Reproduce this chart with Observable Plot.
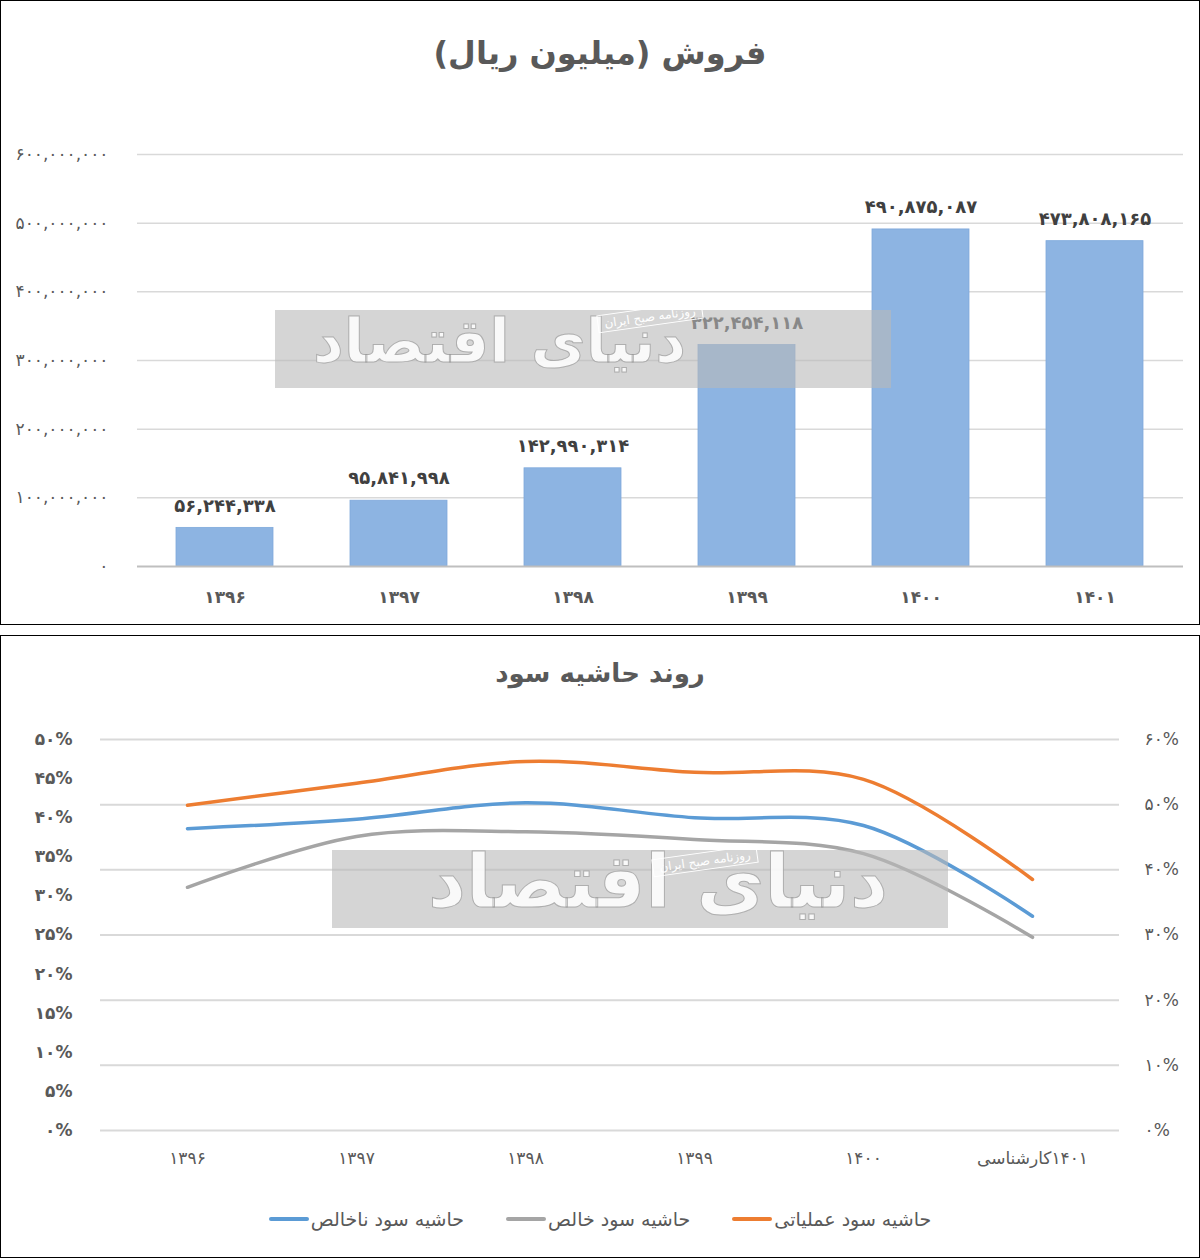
<!DOCTYPE html>
<html>
<head>
<meta charset="utf-8">
<script src="https://cdn.jsdelivr.net/npm/d3@7"></script>
<script src="https://cdn.jsdelivr.net/npm/@observablehq/plot@0.6"></script>
<style>
  body { margin:0; background:#fff; font-family:"DejaVu Sans", sans-serif; }
  .panel { position:absolute; left:0; width:1198px; border:1px solid #000; background:#fff; overflow:hidden; }
  .title { position:absolute; left:0; width:100%; text-align:center; font-weight:bold; color:#595959; direction:rtl; }
  .wm { position:absolute; background:rgba(185,185,185,0.6); }
  .wm .big { position:absolute; font-weight:bold; color:rgba(255,255,255,0.85); -webkit-text-stroke:1px rgba(150,150,150,0.7); direction:rtl; white-space:nowrap; }
  .wm .small { position:absolute; font-size:12px; color:#fff; border:1px solid #fff; padding:1px 6px; transform:rotate(-8deg); direction:rtl; white-space:nowrap; }
  .legend { position:absolute; left:0; width:100%; display:flex; justify-content:center; direction:rtl; gap:42px; font-size:19px; color:#595959; }
  .legend .item { display:flex; align-items:center; direction:rtl; }
  .legend .sw { display:inline-block; width:40px; height:4px; border-radius:2px; margin-right:2px; }
</style>
</head>
<body>
<div class="panel" style="top:0; height:623px;">
  <div class="title" style="top:30px; font-size:32px; line-height:44px;">فروش (میلیون ریال)</div>
  <div id="c1" style="position:absolute; top:99px; left:0;"></div>
  <div class="wm" style="left:274px; top:309px; width:616px; height:78px;">
    <div class="big" style="right:205px; top:-4px; font-size:60px;">دنیای اقتصاد</div>
    <div class="small" style="left:322px; top:-2px;">روزنامه صبح ایران</div>
  </div>
</div>
<div class="panel" style="top:635px; height:621px;">
  <div class="title" style="top:20px; font-size:26px; line-height:34px;">روند حاشیه سود</div>
  <div id="c2" style="position:absolute; top:70px; left:0;"></div>
  <div class="wm" style="left:331px; top:214px; width:616px; height:78px;">
    <div class="big" style="right:60px; top:-12px; font-size:74px;">دنیای اقتصاد</div>
    <div class="small" style="left:320px; top:2px;">روزنامه صبح ایران</div>
  </div>
  <div class="legend" id="legend" style="top:572px;"></div>
</div>
<script>
// ---------- data ----------
const years = ["۱۳۹۶", "۱۳۹۷", "۱۳۹۸", "۱۳۹۹", "۱۴۰۰", "۱۴۰۱"];
const sales = [56244338, 95841998, 142990314, 322454118, 490875087, 473808165];
const salesTicks = [0, 100000000, 200000000, 300000000, 400000000, 500000000, 600000000];

const marginCats = ["۱۳۹۶", "۱۳۹۷", "۱۳۹۸", "۱۳۹۹", "۱۴۰۰", "\u200F۱۴۰۱کارشناسی"];
const operatingMargin = [41.6, 44.4, 47.2, 45.8, 44.9, 32.1];
const grossMargin = [38.6, 39.8, 41.9, 40.0, 39.0, 27.4];
const netMargin = [31.1, 37.6, 38.2, 37.2, 35.4, 24.7];
const leftTicks = [0, 5, 10, 15, 20, 25, 30, 35, 40, 45, 50];
const rightTicks = [0, 10, 20, 30, 40, 50, 60];
const seriesNames = ["حاشیه سود عملیاتی", "حاشیه سود خالص", "حاشیه سود ناخالص"];
const seriesColors = ["#ED7D31", "#A5A5A5", "#5B9BD5"];

// ---------- helpers ----------
const faDigits = "۰۱۲۳۴۵۶۷۸۹";
const fa = s => String(s).replace(/\d/g, d => faDigits[+d]);
const faNum = v => fa(d3.format(",")(v));
const faPct = v => fa(v) + "%";

// ---------- chart 1: sales ----------
const salesRows = years.map((y, i) => ({year: y, value: sales[i]}));
const c1 = Plot.plot({
  width: 1198,
  height: 523,
  marginTop: 54,
  marginBottom: 57,
  marginLeft: 136,
  marginRight: 16,
  style: {fontFamily: "DejaVu Sans", fontSize: "17px", color: "#595959", background: "transparent"},
  x: {domain: years, paddingInner: 0.44, paddingOuter: 0.22, label: null},
  y: {domain: [0, 600000000], label: null},
  marks: [
    Plot.ruleY(salesTicks.slice(1), {stroke: "#d9d9d9", strokeWidth: 1.5}),
    Plot.barY(salesRows, {x: "year", y: "value", fill: "#8DB4E2", stroke: "#7FA9DB", strokeWidth: 0.8}),
    Plot.ruleY([0], {stroke: "#bfbfbf", strokeWidth: 2}),
    Plot.axisY({ticks: salesTicks, tickFormat: faNum, tickSize: 0, tickPadding: 29, fontSize: 17, fill: "#595959"}),
    Plot.axisX({tickSize: 0, tickPadding: 24, fontSize: 17, fontWeight: "bold", fill: "#595959"}),
    Plot.text(salesRows, {x: "year", y: "value", text: d => faNum(d.value), dy: -22, fontSize: 18, fontWeight: "bold", fill: "#404040"})
  ]
});
document.getElementById("c1").appendChild(c1);

// ---------- chart 2: margins ----------
const mk = (vals) => marginCats.map((c, i) => ({cat: c, v: vals[i]}));
const c2 = Plot.plot({
  width: 1198,
  height: 480,
  marginTop: 33,
  marginBottom: 56,
  marginLeft: 99,
  marginRight: 80,
  style: {fontFamily: "DejaVu Sans", fontSize: "17px", color: "#595959", background: "transparent"},
  x: {type: "point", domain: marginCats, padding: 0.5, label: null},
  y: {domain: [0, 50], label: null},
  marks: [
    Plot.ruleY(rightTicks, {y: d => d * 50 / 60, stroke: "#d9d9d9", strokeWidth: 2}),
    Plot.axisY({ticks: leftTicks, tickFormat: faPct, tickSize: 0, tickPadding: 28, fontSize: 17, fontWeight: "bold", fill: "#595959"}),
    Plot.text(rightTicks, {y: d => d * 50 / 60, text: faPct, frameAnchor: "right", dx: 25, textAnchor: "start", fontSize: 17, fill: "#595959"}),
    Plot.axisX({tickSize: 0, tickPadding: 21, fontSize: 17, fill: "#595959"}),
    Plot.line(mk(netMargin), {x: "cat", y: "v", stroke: seriesColors[1], strokeWidth: 3.5, curve: "catmull-rom"}),
    Plot.line(mk(grossMargin), {x: "cat", y: "v", stroke: seriesColors[2], strokeWidth: 3.5, curve: "catmull-rom"}),
    Plot.line(mk(operatingMargin), {x: "cat", y: "v", stroke: seriesColors[0], strokeWidth: 3.5, curve: "catmull-rom"})
  ]
});
document.getElementById("c2").appendChild(c2);

// ---------- legend ----------
const lg = document.getElementById("legend");
seriesNames.forEach((n, i) => {
  const it = document.createElement("div");
  it.className = "item";
  const t = document.createElement("span");
  t.textContent = n;
  const s = document.createElement("span");
  s.className = "sw";
  s.style.background = seriesColors[i];
  it.appendChild(t);
  it.appendChild(s);
  lg.appendChild(it);
});
</script>
</body>
</html>
